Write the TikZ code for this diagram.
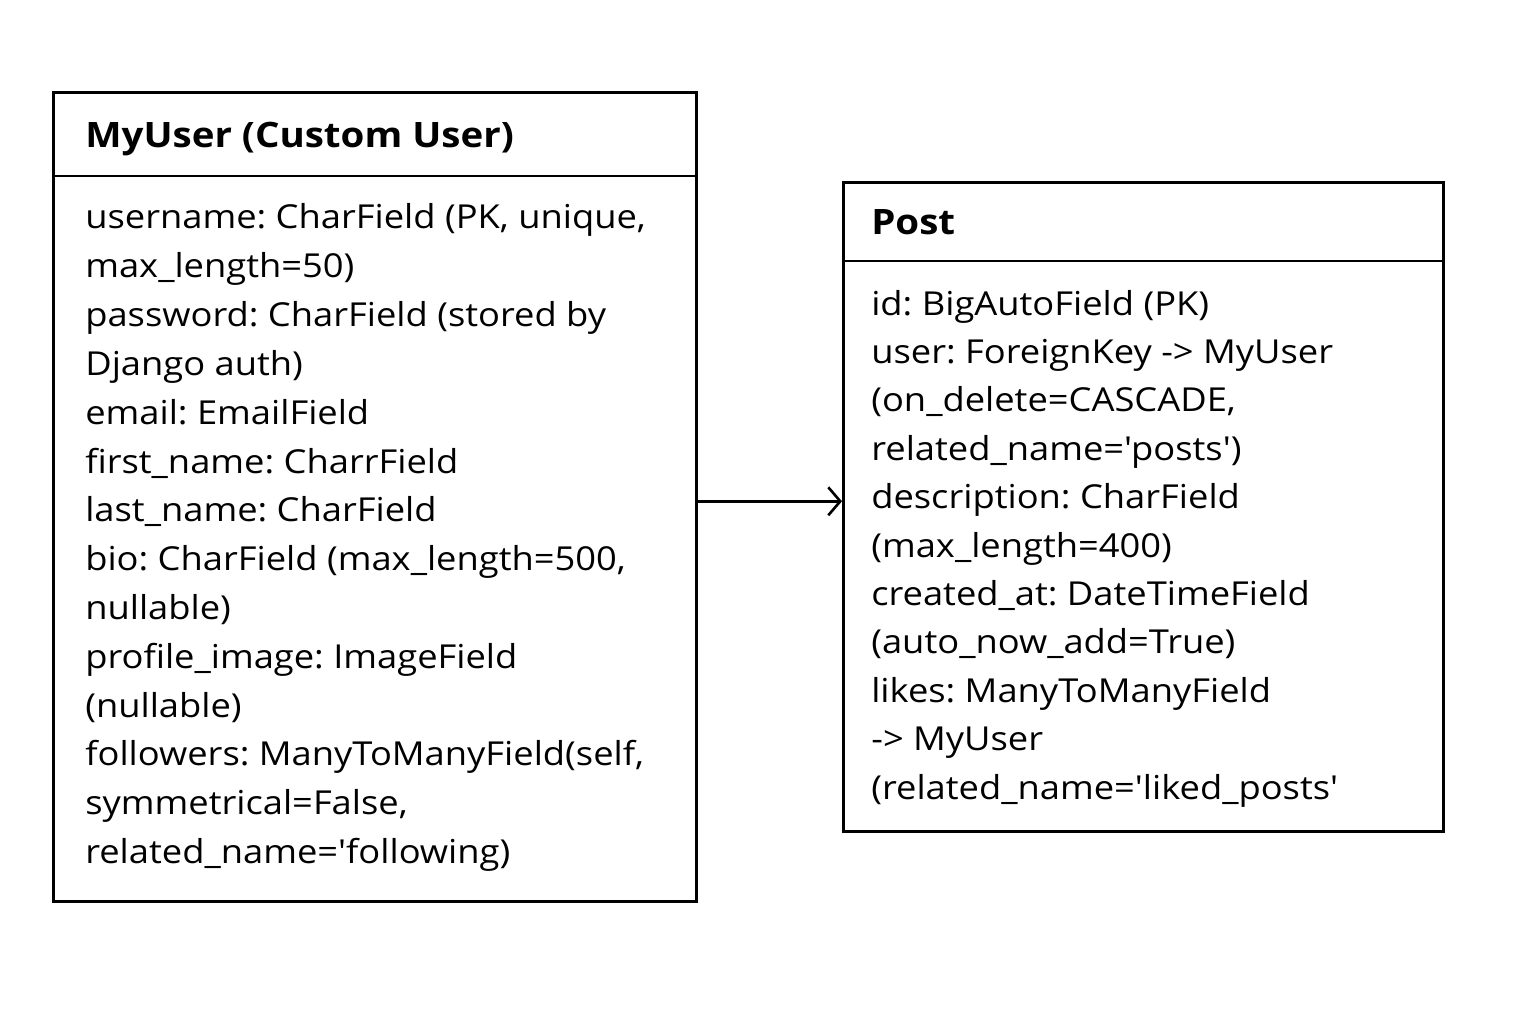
\documentclass[tikz,border=0pt]{standalone}
\usepackage{fontspec}
\newfontfamily\uifont[FakeStretch=1.1]{Open Sans}
\usetikzlibrary{arrows.meta}
\frenchspacing
\begin{document}
\begin{tikzpicture}[x=1pt,y=-1pt,line width=2.6pt,
  box/.style={draw,anchor=north west,inner sep=0pt},
  field/.style={anchor=base west,inner sep=0pt,font=\uifont\frenchspacing\fontsize{33}{38}\selectfont},
  head/.style={anchor=base west,inner sep=0pt,font=\uifont\frenchspacing\bfseries\fontsize{35}{40}\selectfont}]
\useasboundingbox[fill=white] (0,0) rectangle (1536,1024);
% boxes
\node[box,minimum width=643pt,minimum height=809pt] (user) at (52,91) {};
\node[box,minimum width=600pt,minimum height=649pt] (post) at (842,181) {};
\coordinate (ud) at (52,176);
\coordinate (pd) at (842,261);
\draw (ud) -- (ud -| user.east);
\draw (pd) -- (pd -| post.east);
% headers
\node[head] (uh) at (84,148) {MyUser (Custom User)};
\node[head] (ph) at (870,235) {Post};
% user fields
\node[field] (u1) at (84,229) {username: CharField (PK, unique,};
\node[field] (u2) at (84,277.8) {max\_length=50)};
\node[field] (u3) at (84,326.6) {password: CharField (stored by};
\node[field] (u4) at (84,375.4) {Django auth)};
\node[field] (u5) at (84,424.2) {email: EmailField};
\node[field] (u6) at (84,473) {first\_name: CharrField};
\node[field] (u7) at (84,521.8) {last\_name: CharField};
\node[field] (u8) at (84,570.6) {bio: CharField (max\_length=500,};
\node[field] (u9) at (84,619.4) {nullable)};
\node[field] (u10) at (84,668.2) {profile\_image: ImageField};
\node[field] (u11) at (84,717) {(nullable)};
\node[field] (u12) at (84,765.8) {followers: ManyToManyField(self,};
\node[field] (u13) at (84,814.6) {symmetrical=False,};
\node[field] (u14) at (84,863.4) {related\_name='following)};
% post fields
\node[field] (p1) at (870,315) {id: BigAutoField (PK)};
\node[field] (p2) at (870,363.4) {user: ForeignKey -> MyUser};
\node[field] (p3) at (870,411.8) {(on\_delete=CASCADE,};
\node[field] (p4) at (870,460.2) {related\_name='posts')};
\node[field] (p5) at (870,508.6) {description: CharField};
\node[field] (p6) at (870,557) {(max\_length=400)};
\node[field] (p7) at (870,605.4) {created\_at: DateTimeField};
\node[field] (p8) at (870,653.8) {(auto\_now\_add=True)};
\node[field] (p9) at (870,702.2) {likes: ManyToManyField};
\node[field] (p10) at (870,750.6) {-> MyUser};
\node[field] (p11) at (870,799) {(related\_name='liked\_posts'};
% connector
\coordinate (s) at ([yshift=-4.5pt]user.east);
\draw[-{Straight Barb[length=12pt,width=28pt,line width=2.6pt]}] (s) -- (s -| post.west);
\end{tikzpicture}
\end{document}
